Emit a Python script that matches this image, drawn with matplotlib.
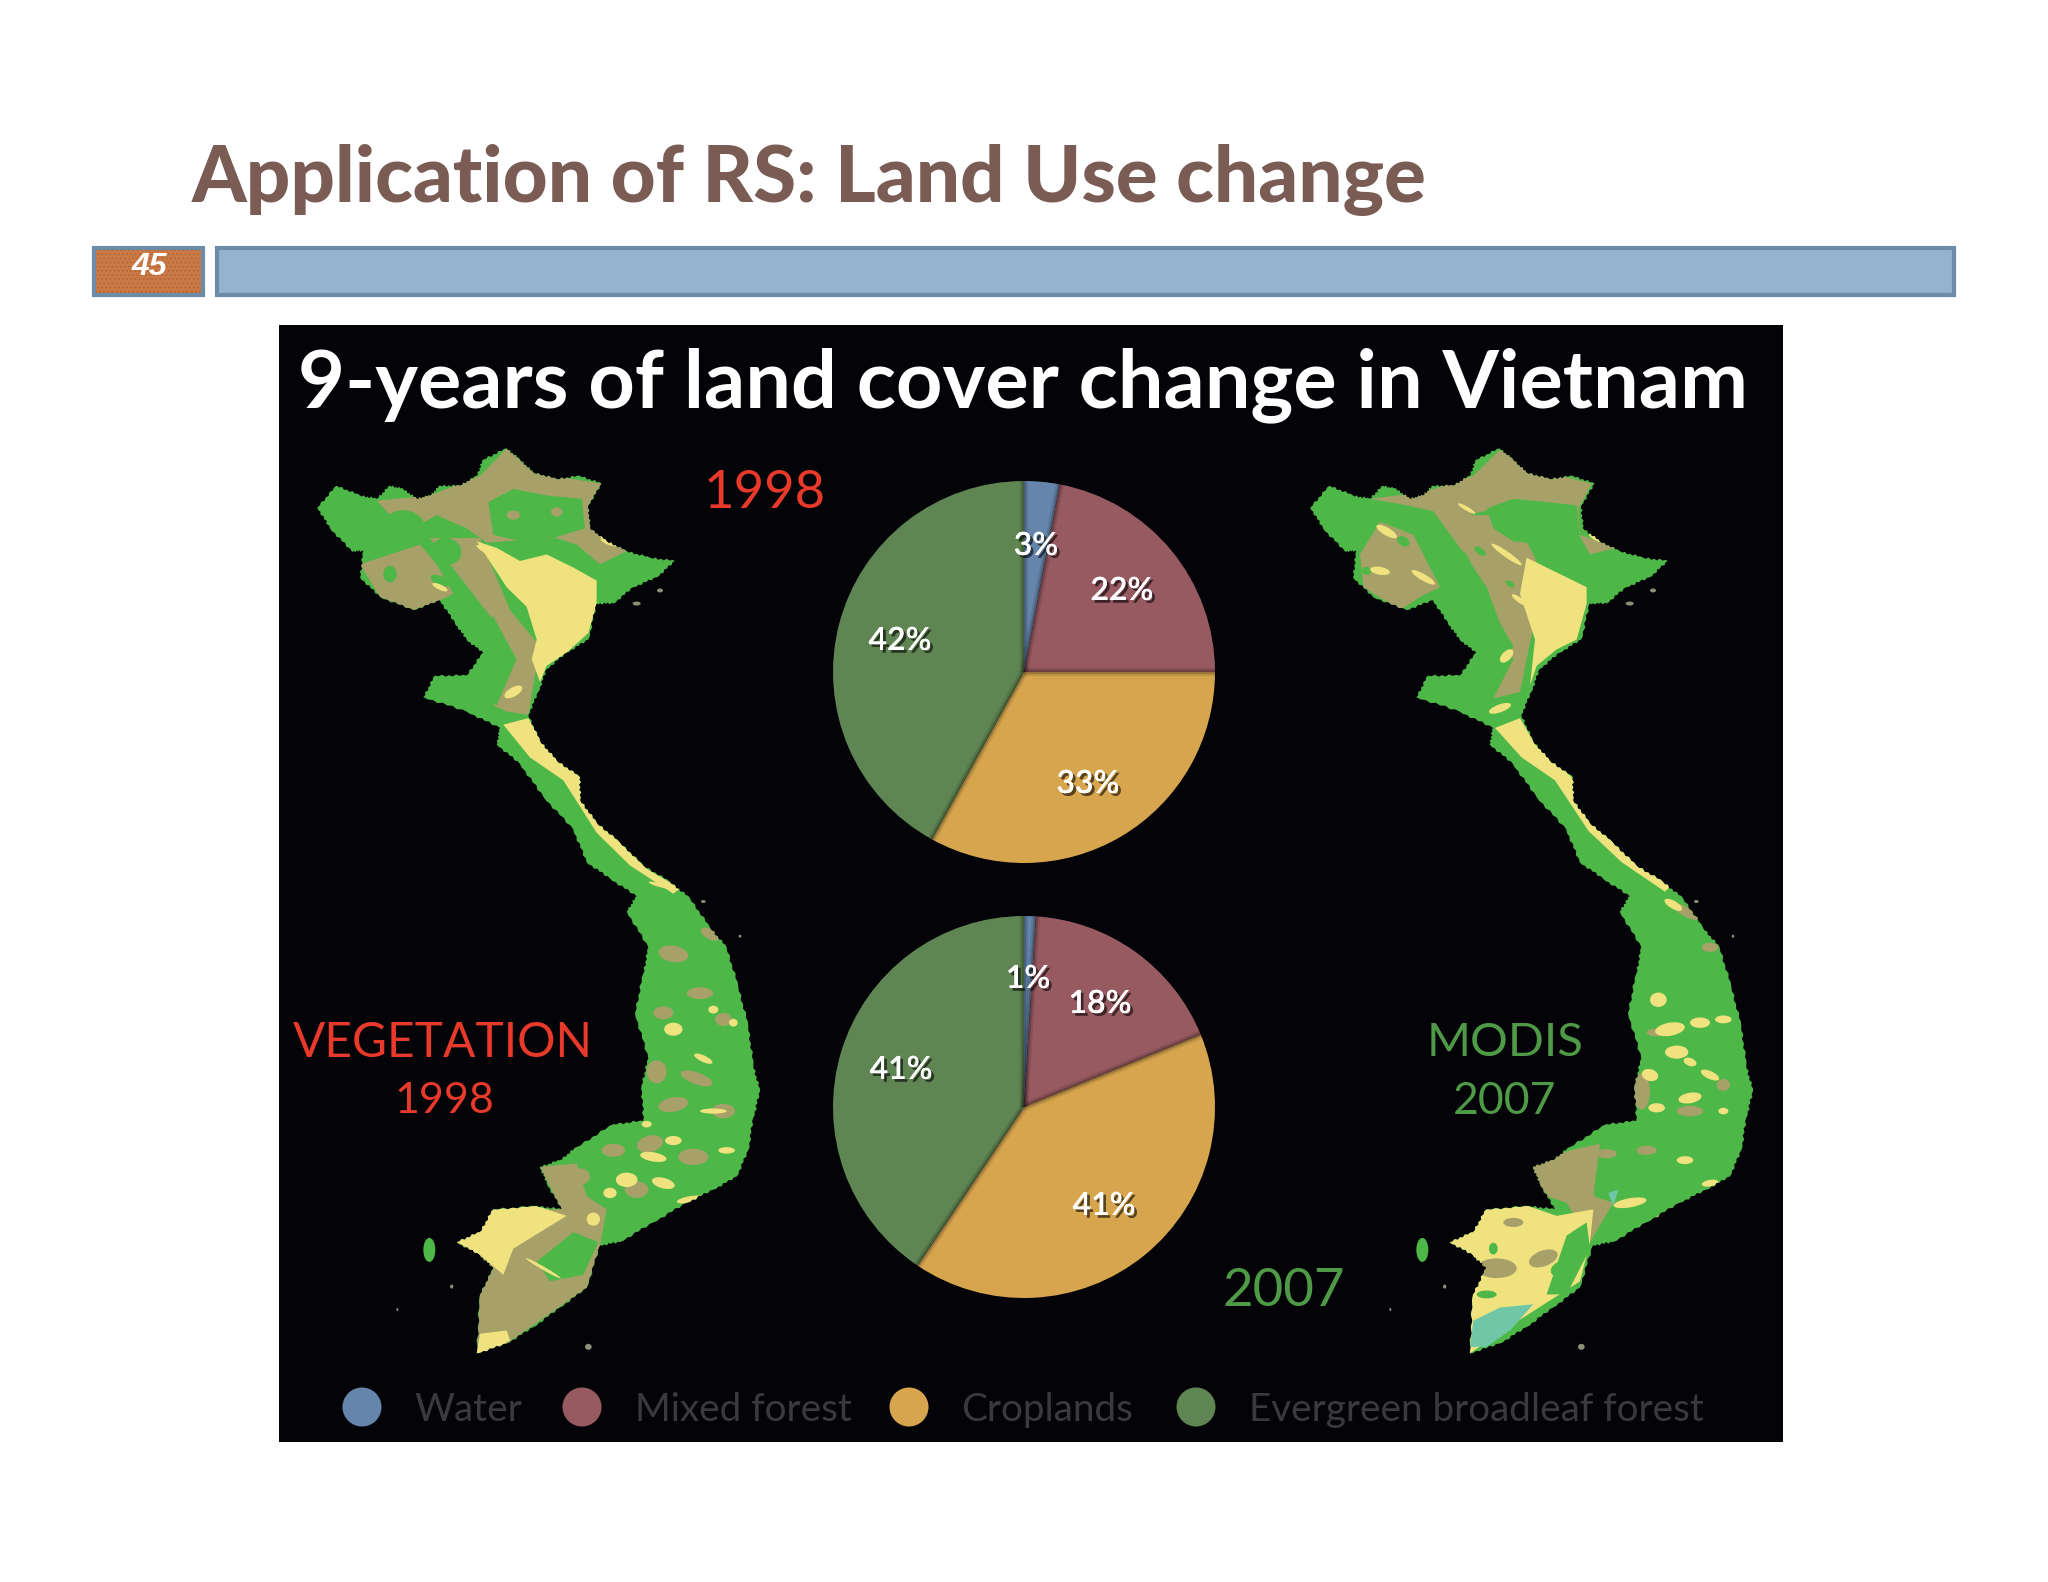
import numpy as np
import matplotlib
matplotlib.use('Agg')
import matplotlib.pyplot as plt
import matplotlib.patheffects as pe
from matplotlib.patches import Polygon, Ellipse, Circle, Rectangle

# pie data
categories = ['Water', 'Mixed forest', 'Croplands', 'Evergreen broadleaf forest']
pct_1998 = [3, 22, 33, 42]
pct_2007 = [1, 18, 41, 41]
pie_colors = ['#6685AB', '#975A60', '#D7A54E', '#5E8552']

# label spots on the picture, pixels
spots_1998 = [(1036, 546), (1122, 591), (1088, 784), (900, 641)]
spots_2007 = [(1028, 979), (1100, 1004), (1104, 1206), (901, 1070)]

outline_x = [112, 170, 240, 290, 330, 370, 410, 450, 480, 540, 590, 610, 680, 720, 760, 830, 900, 965, 925, 930, 980, 1040,
             1110, 1185, 1130, 1060, 1000, 950, 925, 860, 800, 775, 745, 780, 830, 900, 900, 950, 1020, 1090, 1170, 1230,
             1290, 1340, 1375, 1405, 1420, 1440, 1420, 1405, 1370, 1300, 1220, 1120, 1020, 960, 920, 840, 760, 680, 590,
             600, 640, 600, 530, 600, 640, 770, 845, 800, 780, 840, 890, 1000, 1090, 1085, 1105, 1065, 1090, 1105, 1040,
             1070, 990, 920, 880, 790, 720, 650, 660, 560, 430, 465, 560, 610, 560, 525, 480, 400, 300, 240, 250, 215, 150]
outline_y = [118, 85, 100, 105, 85, 90, 105, 100, 85, 85, 70, 45, 28, 45, 65, 75, 70, 82, 115, 150, 170, 185,
             195, 200, 225, 240, 265, 265, 320, 340, 365, 400, 435, 475, 505, 530, 565, 600, 630, 665, 690, 715,
             760, 790, 850, 910, 970, 1010, 1050, 1100, 1140, 1160, 1180, 1210, 1240, 1245, 1310, 1340, 1370, 1395, 1410,
             1320, 1280, 1260, 1240, 1225, 1190, 1185, 1190, 1150, 1125, 1115, 1095, 1060, 1055, 1000, 960, 890, 830, 790, 735,
             712, 685, 660, 610, 560, 510, 480, 455, 430, 408, 375, 375, 340, 320, 295, 260, 275, 255, 225, 185, 185, 150]

GREEN = '#4DB848'
TAN = '#A7A068'
YELLOW = '#F0E27E'
TEAL = '#6FC7A8'

# 1998 land cover zones, left crop coordinates
tan_98 = [
    [(290, 108), (450, 100), (600, 70), (680, 28), (760, 65), (965, 82), (925, 115), (930, 150), (1040, 185), (960, 205),
     (890, 175), (830, 165), (620, 172), (560, 150), (470, 130), (400, 150), (330, 130)],
    [(240, 205), (330, 190), (420, 175), (470, 205), (520, 250), (480, 260), (400, 275), (300, 255)],
    [(450, 165), (600, 165), (690, 275), (780, 330), (745, 435), (680, 430), (640, 420), (700, 350), (640, 290), (540, 225)],
    [(780, 1125), (890, 1120), (920, 1170), (980, 1190), (960, 1245), (920, 1310), (680, 1395), (590, 1410),
     (600, 1320), (640, 1280), (530, 1240), (640, 1190), (845, 1190)],
]
green_98 = [
    [(890, 235), (1000, 200), (1130, 205), (1000, 250), (950, 260)],
    [(770, 1270), (880, 1225), (955, 1240), (910, 1290), (810, 1300)],
    [(560, 290), (640, 285), (710, 350), (650, 420), (560, 400)],
    [(625, 110), (700, 90), (800, 100), (905, 105), (915, 150), (820, 165), (720, 170), (640, 160)],
]
yellow_98 = [
    [(590, 170), (650, 180), (720, 200), (800, 190), (880, 210), (950, 230), (950, 265), (925, 310), (860, 340), (800, 360),
     (780, 385), (755, 350), (770, 320), (740, 270), (680, 240)],
    [(670, 450), (745, 440), (790, 480), (900, 530), (960, 600), (1100, 670), (1200, 700), (1180, 708), (1050, 665),
     (950, 615), (850, 535), (750, 500)],
    [(530, 1240), (640, 1190), (770, 1185), (860, 1200), (700, 1250), (670, 1290), (600, 1260)],
    [(590, 1410), (600, 1380), (680, 1375), (690, 1390), (640, 1405)],
]
# x, y, w, h in crop units, angle
blobs_tan_98 = [(700, 130, 40, 14, 0), (830, 125, 34, 14, 0), (1180, 800, 90, 25, 10), (1260, 860, 80, 18, 0), (1150, 890, 60, 20, 0),
                (1330, 900, 50, 20, 0), (1130, 980, 60, 35, 0), (1250, 990, 100, 18, 20), (1330, 1040, 70, 22, 0),
                (1180, 1030, 90, 22, -10), (1110, 1090, 80, 25, -15), (1240, 1110, 90, 25, 0), (1000, 1100, 70, 20, 0),
                (900, 1140, 60, 25, 0), (1290, 770, 60, 15, 30), (1070, 1160, 70, 25, 0)]
blobs_green_98 = [(370, 150, 130, 55, 0), (500, 185, 90, 40, 20), (330, 220, 40, 25, 0), (480, 230, 60, 14, 25)]
blobs_yellow_98 = [(1180, 915, 55, 20, 0), (1300, 885, 30, 12, 0), (1360, 905, 26, 12, 0), (1270, 960, 60, 10, 25), (1300, 1040, 80, 8, 0),
                   (1180, 1085, 50, 14, 0), (1120, 1110, 80, 14, 10), (1040, 1145, 65, 22, 0), (1150, 1150, 70, 16, 15),
                   (1230, 1175, 80, 10, -10), (1340, 1100, 50, 10, 0), (1100, 1060, 30, 10, 0), (990, 1165, 40, 16, 0),
                   (940, 1205, 40, 20, 0), (620, 185, 70, 8, 30), (480, 240, 50, 8, 25), (790, 1280, 120, 5, 30), (990, 170, 60, 12, 20),
                   (700, 400, 60, 14, -30), (1140, 695, 70, 6, 15)]

# 2007 zones, right crop coordinates
tan_07 = [
    [(270, 105), (430, 95), (580, 70), (660, 30), (730, 55), (935, 82), (895, 120), (900, 160), (1010, 180), (930, 190),
     (880, 145), (650, 120), (560, 130), (470, 125), (380, 115)],
    [(240, 190), (300, 140), (400, 160), (480, 240), (420, 255), (360, 275), (250, 240)],
    [(440, 110), (580, 130), (700, 130), (770, 200), (760, 300), (720, 400), (640, 410), (700, 350), (620, 240), (540, 180)],
    [(750, 1125), (870, 1100), (960, 1090), (940, 1170), (1000, 1180), (930, 1240), (860, 1180), (800, 1170)],
]
green_07 = [
    [(560, 285), (620, 260), (700, 330), (640, 400), (560, 390)],
    [(860, 1230), (920, 1210), (930, 1250), (860, 1320), (800, 1320)],
    [(620, 120), (700, 105), (800, 110), (890, 115), (900, 165), (800, 175), (700, 170), (640, 150)],
    [(340, 120), (430, 130), (560, 190), (620, 250), (560, 250), (470, 190), (380, 150)],
]
yellow_07 = [
    [(740, 195), (800, 210), (920, 240), (920, 265), (890, 320), (830, 335), (770, 360), (750, 390), (765, 320), (720, 250)],
    [(645, 455), (720, 440), (765, 480), (875, 530), (935, 600), (1075, 665), (1175, 695), (1155, 705), (1025, 660),
     (925, 612), (825, 535), (725, 500)],
    [(505, 1240), (615, 1190), (745, 1185), (830, 1200), (940, 1190), (930, 1240), (900, 1300), (700, 1365), (570, 1410),
     (575, 1320), (615, 1280)],
]
teal_07 = [[(570, 1400), (580, 1360), (660, 1340), (760, 1335), (690, 1375), (620, 1400)],
           [(985, 1165), (1015, 1160), (1000, 1185)]]
blobs_tan_07 = [(650, 1280, 120, 30, 0), (790, 1265, 90, 24, -20), (900, 1170, 90, 20, 0), (700, 1210, 60, 14, 0),
                (1085, 1010, 50, 55, 0), (1230, 1040, 80, 16, 0), (1130, 920, 60, 12, 0), (1330, 1000, 40, 18, 0),
                (1100, 1100, 60, 14, 0), (980, 1105, 60, 14, 0), (1215, 735, 90, 14, 30), (1290, 790, 50, 14, 0)]
blobs_green_07 = [(640, 1250, 26, 18, 0), (840, 1280, 60, 20, -30), (620, 1320, 60, 12, 0),
                  (540, 210, 70, 20, 30), (370, 170, 40, 14, 30), (260, 215, 30, 12, 0), (600, 185, 40, 10, 35), (690, 235, 30, 8, 35)]
blobs_yellow_07 = [(1135, 870, 50, 22, 0), (1170, 915, 90, 20, -10), (1260, 905, 60, 16, 0), (1330, 900, 50, 12, 0),
                   (1190, 950, 70, 20, 0), (1230, 965, 40, 12, 20), (1110, 985, 50, 18, 15), (1290, 985, 60, 12, 25),
                   (1230, 1020, 70, 16, -10), (1130, 1035, 50, 14, 0), (1330, 1040, 30, 10, 0), (1215, 1115, 50, 12, 0),
                   (1290, 1150, 50, 10, -10), (1050, 1180, 100, 14, -10), (1160, 1200, 70, 10, -15), (1180, 725, 60, 12, 30),
                   (320, 155, 70, 12, 30), (430, 225, 80, 10, 30), (300, 215, 60, 12, 10), (680, 190, 110, 9, 35), (720, 260, 60, 8, 35),
                   (680, 345, 50, 14, -45), (660, 425, 70, 12, -20), (560, 120, 60, 6, 30), (950, 165, 50, 8, 25)]

# small islets and the gulf dots, crop coordinates
islets = [(925, 1400, 20, 6), (515, 1308, 10, 4), (352, 1343, 6, 3), (1380, 773, 8, 3), (1270, 720, 14, 3),
          (1140, 245, 18, 4), (1070, 265, 24, 4)]


def to_px(points, x0, y0=430):
    # the crop of a map is 3x wide and 1.527x tall
    pts = np.asarray(points, dtype=float)
    return np.c_[x0 + pts[:, 0] / 3.0, y0 + pts[:, 1] / 1.527]


def rough(xy):
    # break each coast segment up so the edge is not ruler straight
    out = []
    n = len(xy)
    offs = (0, 0.7, -0.9, 1.1, -0.4, 0.9, -1.2, 0.3, -0.7)
    for i in range(n):
        a, b = xy[i], xy[(i + 1) % n]
        d = b - a
        perp = np.array([-d[1], d[0]]) / (np.hypot(*d) + 1e-6)
        for k, off in enumerate(offs):
            out.append(a + d * k / len(offs) + perp * off)
    return np.array(out)


def draw_map(ax, x0, zx0, zones, tans, greens, yellows):
    land = Polygon(rough(to_px(list(zip(outline_x, outline_y)), x0)), closed=True, fc=GREEN, ec='none', zorder=2)
    ax.add_patch(land)
    for group, col in zones:
        for pts in group:
            p = Polygon(to_px(pts, zx0), closed=True, fc=col, ec='none', zorder=3)
            ax.add_patch(p)
            p.set_clip_path(land)
    for blobs, col in ((tans, TAN), (greens, GREEN), (yellows, YELLOW)):
        for bx, by, bw, bh, ang in blobs:
            c = to_px([(bx, by)], zx0)[0]
            e = Ellipse(c, bw / 3.0, bh / 1.527, angle=ang, fc=col, ec='none', zorder=4)
            ax.add_patch(e)
            e.set_clip_path(land)
    # Phu Quoc island and specks
    ax.add_patch(Ellipse(to_px([(448, 1252)], x0)[0], 12, 24, fc=GREEN, ec='none', zorder=2))
    for ix, iy, iw, ih in islets:
        ax.add_patch(Ellipse(to_px([(ix, iy)], x0)[0], iw / 3.0, ih, fc='#8C8F78', ec='none', zorder=2))


fig = plt.figure(figsize=(20.48, 15.82), dpi=100, facecolor='white')
ax = fig.add_axes([0, 0, 1, 1])
ax.set_xlim(0, 2048)
ax.set_ylim(1582, 0)
ax.axis('off')

# header
ax.text(192, 202, 'Application of RS: Land Use change', family='Lato', weight='black', fontsize=56.2, color='#7A5C55',
        ha='left', va='baseline')
ax.add_patch(Rectangle((217, 248), 1737, 47, fc='#93B3D0', ec='#6C8BA6', lw=3))
ax.add_patch(Rectangle((94, 248), 109, 47, fc='#CB7A45', ec='#6C8BA6', lw=3))
ax.add_patch(Rectangle((96, 250), 105, 43, fc='none', ec='#B5683A', lw=0, hatch='....'))
ax.text(149, 267, '45', family='Liberation Sans', style='italic', weight='bold', fontsize=23, color='white',
        ha='center', va='center')

# black panel
ax.add_patch(Rectangle((279, 325), 1504, 1117, fc='#040408', ec='none', zorder=1))
ax.text(1023, 407, '9-years of land cover change in Vietnam', family='Lato', weight='bold', fontsize=58.4, color='white',
        ha='center', va='baseline', zorder=5)

# maps
draw_map(ax, 280, 280,
         [(tan_98, TAN), (green_98, GREEN), (yellow_98, YELLOW)],
         blobs_tan_98, blobs_green_98, blobs_yellow_98)
draw_map(ax, 1273, 1280,
         [(tan_07, TAN), (yellow_07, YELLOW), (green_07, GREEN), (teal_07, TEAL)],
         blobs_tan_07, blobs_green_07, blobs_yellow_07)

# side labels
RED = '#E8392B'
DKGREEN = '#4E9A46'
big = dict(family='Lato', ha='center', va='center', zorder=5)
ax.text(765, 494, '1998', color=RED, fontsize=38, **big)
ax.text(1284, 1291, '2007', color=DKGREEN, fontsize=38, **big)
ax.text(443, 1043, 'VEGETATION', color=RED, fontsize=34.5, **big)
ax.text(444, 1101, '1998', color=RED, fontsize=31, **big)
ax.text(1505, 1043, 'MODIS', color=DKGREEN, fontsize=34, **big)
ax.text(1505, 1101, '2007', color=DKGREEN, fontsize=32, **big)

# legend
dot_x = [362, 582, 909, 1196]
text_x = [414, 635, 961, 1249]
for name, col, dx, tx in zip(categories, pie_colors, dot_x, text_x):
    ax.add_patch(Circle((dx, 1407), 19.5, fc=col, ec='none', zorder=5))
    ax.text(tx, 1421, name, family='Lato', fontsize=27.8, color='#3A3A3E', ha='left', va='baseline', zorder=5)


def draw_pie(values, cx, cy, r):
    pax = fig.add_axes([(cx - r) / 2048, 1 - (cy + r) / 1582, 2 * r / 2048, 2 * r / 1582], zorder=3)
    pax.pie(values, colors=pie_colors, startangle=90, counterclock=False, wedgeprops=dict(linewidth=0))
    # soft dark seam between the wedges
    angles = np.radians(90 - 360 * np.cumsum(values) / sum(values))
    for a in angles:
        for lw, alpha in ((6, 0.10), (3, 0.20)):
            pax.plot([0, np.cos(a)], [0, np.sin(a)], color='black', lw=lw, alpha=alpha, solid_capstyle='butt')
    pax.set_xlim(-1, 1)
    pax.set_ylim(-1, 1)
    pax.axis('off')


draw_pie(pct_1998, 1024, 672, 191)
draw_pie(pct_2007, 1024, 1107, 191)

# pie labels go on an axes above the pies
top = fig.add_axes([0, 0, 1, 1], zorder=6)
top.set_xlim(0, 2048)
top.set_ylim(1582, 0)
top.axis('off')
shadow = [pe.withSimplePatchShadow(offset=(2, -2), shadow_rgbFace='black', alpha=0.6), pe.Normal()]
for values, spots in ((pct_1998, spots_1998), (pct_2007, spots_2007)):
    for v, (sx, sy) in zip(values, spots):
        t = top.text(sx, sy, f'{v}%', family='Lato', weight='semibold', fontsize=23, color='white', ha='center', va='center')
        t.set_path_effects(shadow)

fig.savefig('out.png', dpi=100, facecolor='white')
